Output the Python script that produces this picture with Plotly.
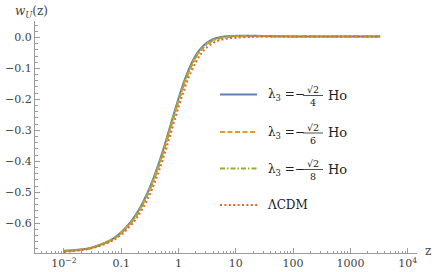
import plotly.graph_objects as go

# ---------------- data ----------------
z = [0.01, 0.02, 0.03, 0.05, 0.07, 0.1, 0.15, 0.2, 0.3, 0.4, 0.5, 0.6, 0.7, 0.85, 1.0,
     1.2, 1.5, 2.0, 2.5, 3.0, 4.0, 5.0, 7.0, 10, 20, 50, 100, 300, 1000, 3300]

w_sqrt2_4 = [-0.689, -0.685, -0.679, -0.664, -0.651, -0.629, -0.593, -0.559, -0.494, -0.435,
             -0.382, -0.335, -0.293, -0.240, -0.197, -0.152, -0.105, -0.058, -0.034, -0.020,
             -0.006, 0.000, 0.004, 0.005, 0.005, 0.004, 0.003, 0.003, 0.003, 0.003]
w_sqrt2_6 = [-0.690, -0.685, -0.680, -0.665, -0.652, -0.631, -0.596, -0.563, -0.499, -0.441,
             -0.389, -0.342, -0.300, -0.247, -0.204, -0.159, -0.111, -0.063, -0.038, -0.023,
             -0.009, -0.003, 0.002, 0.004, 0.004, 0.004, 0.003, 0.003, 0.003, 0.003]
w_sqrt2_8 = [-0.690, -0.686, -0.680, -0.666, -0.653, -0.632, -0.598, -0.565, -0.501, -0.444,
             -0.392, -0.345, -0.303, -0.250, -0.207, -0.162, -0.114, -0.065, -0.040, -0.025,
             -0.010, -0.004, 0.001, 0.003, 0.004, 0.003, 0.003, 0.003, 0.003, 0.003]
w_lcdm = [-0.693, -0.687, -0.681, -0.668, -0.656, -0.637, -0.605, -0.575, -0.515, -0.460,
          -0.409, -0.363, -0.322, -0.269, -0.226, -0.180, -0.130, -0.080, -0.052, -0.035,
          -0.018, -0.010, -0.004, -0.001, 0.002, 0.003, 0.003, 0.003, 0.003, 0.003]

x_tickvals = [0.01, 0.1, 1, 10, 100, 1000, 10000]
x_ticktext = ["10<sup>−2</sup>", "0.1", "1", "10", "100", "1000", "10<sup>4</sup>"]
y_tickvals = [0.0, -0.1, -0.2, -0.3, -0.4, -0.5, -0.6]
y_ticktext = ["0.0", "−0.1", "−0.2", "−0.3", "−0.4", "−0.5", "−0.6"]

denominators = ["4", "6", "8"]

# ---------------- styling ----------------
BLUE, ORANGE, GREEN, RED = "#5E81B5", "#E19C24", "#8FB032", "#EB6235"
series = [
    (w_sqrt2_4, BLUE, "solid"),
    (w_sqrt2_6, ORANGE, "5px,2.5px"),
    (w_sqrt2_8, GREEN, "5px,2px,1.5px,2px"),
    (w_lcdm, RED, "2px,2.4px"),
]
FONT = "DejaVu Serif"
AXC = "#9a9a9a"
TXT = "#444444"

W_FIG, H_FIG = 432, 272
L, T, W, H = 35, 21, 382, 232


def px(x):
    return (x - L) / W


def py(y):
    return (T + H - y) / H


fig = go.Figure()
for ys, col, dash in series:
    fig.add_trace(go.Scatter(x=z, y=ys, mode="lines",
                             line=dict(color=col, width=2, dash=dash, shape="spline", smoothing=1.0),
                             showlegend=False, hoverinfo="skip"))

minor_x = [k * 10.0 ** n for n in range(-3, 5) for k in range(2, 10)]

fig.update_layout(
    template="none",
    width=W_FIG, height=H_FIG,
    margin=dict(l=L, r=W_FIG - L - W, t=T, b=H_FIG - T - H, autoexpand=False),
    paper_bgcolor="white", plot_bgcolor="white",
    font=dict(family=FONT, size=11, color=TXT),
    xaxis=dict(type="log", range=[-2.504, 4.162], showgrid=False, zeroline=False, automargin=False,
               showline=True, linecolor=AXC, linewidth=1,
               tickmode="array", tickvals=x_tickvals, ticktext=x_ticktext,
               ticks="inside", ticklen=5, tickcolor=AXC, tickwidth=1,
               tickfont=dict(family=FONT, size=11, color=TXT),
               minor=dict(tickmode="array", tickvals=minor_x, ticks="inside", ticklen=2.5,
                          tickcolor=AXC, tickwidth=1, showgrid=False)),
    yaxis=dict(range=[-0.696, 0.053], showgrid=False, zeroline=False, automargin=False,
               showline=True, linecolor=AXC, linewidth=1,
               tickmode="array", tickvals=y_tickvals, ticktext=y_ticktext,
               ticks="inside", ticklen=5, tickcolor=AXC, tickwidth=1,
               tickfont=dict(family=FONT, size=11, color=TXT),
               minor=dict(dtick=0.02, tick0=0, ticks="inside", ticklen=2.5,
                          tickcolor=AXC, tickwidth=1, showgrid=False)),
)

annotations = []
shapes = []

# axis labels
annotations.append(dict(x=px(13), y=py(12), xref="paper", yref="paper", xanchor="left", yanchor="middle",
                        text="<i>w</i><sub><i>U</i></sub>(z)", showarrow=False,
                        font=dict(family=FONT, size=12, color=TXT)))
annotations.append(dict(x=px(423), y=py(251), xref="paper", yref="paper", xanchor="left", yanchor="middle",
                        text="z", showarrow=False, font=dict(family=FONT, size=12, color=TXT)))

# legend
rows = [94.5, 132, 168.5, 205]
for i, (ys, col, dash) in enumerate(series):
    Y = rows[i]
    shapes.append(dict(type="line", xref="paper", yref="paper", x0=px(220), x1=px(257),
                       y0=py(Y), y1=py(Y), line=dict(color=col, width=2, dash=dash)))
for i, d in enumerate(denominators):
    Y = rows[i]
    annotations.append(dict(x=px(266), y=py(Y + 1), xref="paper", yref="paper", xanchor="left", yanchor="middle",
                            text="λ<sub>3</sub> =−", showarrow=False,
                            font=dict(family=FONT, size=12, color="#222")))
    annotations.append(dict(x=px(313), y=py(Y - 5), xref="paper", yref="paper", xanchor="center",
                            yanchor="middle", text="√2", showarrow=False,
                            font=dict(family=FONT, size=9.5, color="#222")))
    annotations.append(dict(x=px(313), y=py(Y + 8), xref="paper", yref="paper", xanchor="center",
                            yanchor="middle", text=d, showarrow=False,
                            font=dict(family=FONT, size=9.5, color="#222")))
    shapes.append(dict(type="line", xref="paper", yref="paper", x0=px(303), x1=px(323),
                       y0=py(Y + 1), y1=py(Y + 1), line=dict(color="#222", width=0.8)))
    annotations.append(dict(x=px(326), y=py(Y + 0.5), xref="paper", yref="paper", xanchor="left",
                            yanchor="middle", text="Ho", showarrow=False,
                            font=dict(family=FONT, size=13, color="#222")))
annotations.append(dict(x=px(265), y=py(rows[3]), xref="paper", yref="paper", xanchor="left", yanchor="middle",
                        text="ΛCDM", showarrow=False, font=dict(family=FONT, size=12, color="#222")))

fig.update_layout(annotations=annotations, shapes=shapes)
fig.write_html("out.html", config={"displayModeBar": False},
               post_script="document.body.style.margin='0';document.body.style.padding='0';")
